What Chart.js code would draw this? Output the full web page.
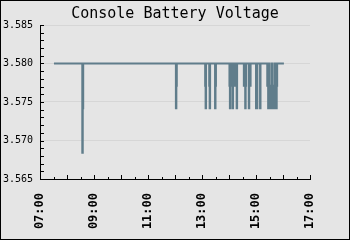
<!DOCTYPE html>
<html>
<head>
<meta charset="utf-8">
<script src="https://cdn.jsdelivr.net/npm/chart.js@4.4.0/dist/chart.umd.min.js"></script>
<style>
  body { margin: 0; background: #e5e5e5; }
  canvas { display: block; }
</style>
</head>
<body>
<canvas id="voltChart" width="350" height="240"></canvas>
<script>
// readings: minutes since midnight, value holds until the next reading
const readTimes = [
  451,
  514, 515, 516,
  722, 723, 724,
  787, 788, 789,
  796, 797, 798,
  809, 810, 811,
  841, 842, 843, 844, 845, 846, 847, 848, 849, 850, 851, 852, 853, 854, 855, 856, 857, 858,
  873, 874, 875, 876, 877, 878,
  884, 885, 886, 887, 888,
  900, 901, 902, 903,
  909, 910,
  925, 926, 927, 928, 929, 930, 931, 932, 933, 934, 935, 936, 937, 938, 939, 940, 941, 942, 943, 944, 945, 946, 947,
  962,
];
const readVolts = [
  3.5800,
  3.5684, 3.5742, 3.5800,
  3.5742, 3.5771, 3.5800,
  3.5771, 3.5742, 3.5800,
  3.5771, 3.5742, 3.5800,
  3.5742, 3.5771, 3.5800,
  3.5771, 3.5742, 3.5771, 3.5800, 3.5771, 3.5800, 3.5771, 3.5742, 3.5771, 3.5800, 3.5771, 3.5800, 3.5771, 3.5800, 3.5771, 3.5800, 3.5742, 3.5800,
  3.5771, 3.5800, 3.5771, 3.5742, 3.5771, 3.5800,
  3.5742, 3.5771, 3.5800, 3.5771, 3.5800,
  3.5742, 3.5771, 3.5742, 3.5800,
  3.5742, 3.5800,
  3.5771, 3.5800, 3.5742, 3.5800, 3.5742, 3.5771, 3.5742, 3.5771, 3.5742, 3.5800, 3.5742, 3.5800, 3.5742, 3.5771, 3.5742, 3.5771, 3.5742, 3.5800, 3.5742, 3.5800, 3.5742, 3.5771, 3.5800,
  3.5800,
];
const xTickMinutes = [420, 540, 660, 780, 900, 1020];
const yTickValues = [3.565, 3.570, 3.575, 3.580, 3.585];

const bgColor = "#e5e5e5";

function fmtTime(m) {
  let h = Math.floor(m / 60);
  let mm = m % 60;
  return String(h).padStart(2, "0") + ":" + String(mm).padStart(2, "0");
}

// background, outer frame and the small inward ticks
const framePlugin = {
  id: "frame",
  beforeDraw(chart) {
    const ctx = chart.ctx;
    ctx.save();
    ctx.fillStyle = bgColor;
    ctx.fillRect(0, 0, chart.width, chart.height);
    ctx.restore();
  },
  afterDraw(chart) {
    const ctx = chart.ctx;
    const xs = chart.scales.x;
    const ys = chart.scales.y;
    const area = chart.chartArea;
    ctx.save();
    ctx.strokeStyle = "#000";
    ctx.lineWidth = 1;
    ctx.beginPath();
    for (let m = xs.min; m <= xs.max; m += 30) {
      const px = Math.round(xs.getPixelForValue(m)) + 0.5;
      const len = m % 60 === 0 ? 4 : 2;
      ctx.moveTo(px, area.bottom);
      ctx.lineTo(px, area.bottom - len);
    }
    for (let i = 0; i <= 20; i++) {
      const py = Math.round(ys.getPixelForValue(ys.min + i * 0.001)) + 0.5;
      ctx.moveTo(area.left, py);
      ctx.lineTo(area.left + 4, py);
    }
    ctx.stroke();
    ctx.strokeRect(0.5, 0.5, chart.width - 1, chart.height - 1);
    ctx.restore();
  },
};

const points = readTimes.map((t, i) => ({ x: t, y: readVolts[i] }));

new Chart(document.getElementById("voltChart"), {
  type: "line",
  data: {
    datasets: [
      {
        data: points,
        borderColor: "#607d8b",
        borderWidth: 2,
        pointRadius: 0,
        stepped: true,
        fill: false,
      },
    ],
  },
  options: {
    responsive: false,
    animation: false,
    devicePixelRatio: 1,
    plugins: {
      legend: { display: false },
      tooltip: { enabled: false },
      title: {
        display: true,
        text: "Console Battery Voltage",
        color: "#000",
        font: { family: "DejaVu Sans Mono", size: 15, weight: "normal" },
        padding: { top: 5, bottom: 2 },
      },
    },
    scales: {
      x: {
        type: "linear",
        min: 420,
        max: 1020,
        afterBuildTicks: (s) => { s.ticks = xTickMinutes.map((v) => ({ value: v })); },
        afterFit: (s) => { s.height = 61; },
        grid: { display: false },
        border: { display: true, color: "#000", width: 1 },
        ticks: {
          autoSkip: false,
          maxRotation: 90,
          minRotation: 90,
          padding: 6,
          color: "#000",
          font: { family: "DejaVu Sans Mono", size: 12, weight: "bold" },
          callback: (v) => fmtTime(v),
        },
      },
      y: {
        min: 3.565,
        max: 3.585,
        afterBuildTicks: (s) => { s.ticks = yTickValues.map((v) => ({ value: v })); },
        afterFit: (s) => { s.width = 40; },
        grid: { color: "#d6d6d6", drawTicks: false },
        border: { display: true, color: "#000", width: 1 },
        ticks: {
          padding: 7,
          color: "#000",
          font: { family: "DejaVu Sans Mono", size: 10 },
          callback: (v) => v.toFixed(3),
        },
      },
      // empty right axis, only keeps a margin so the title stays centred on the image
      yRight: {
        position: "right",
        min: 3.565,
        max: 3.585,
        afterFit: (s) => { s.width = 40; },
        grid: { display: false },
        border: { display: false },
        ticks: { display: false },
      },
    },
  },
  plugins: [framePlugin],
});
</script>
</body>
</html>
